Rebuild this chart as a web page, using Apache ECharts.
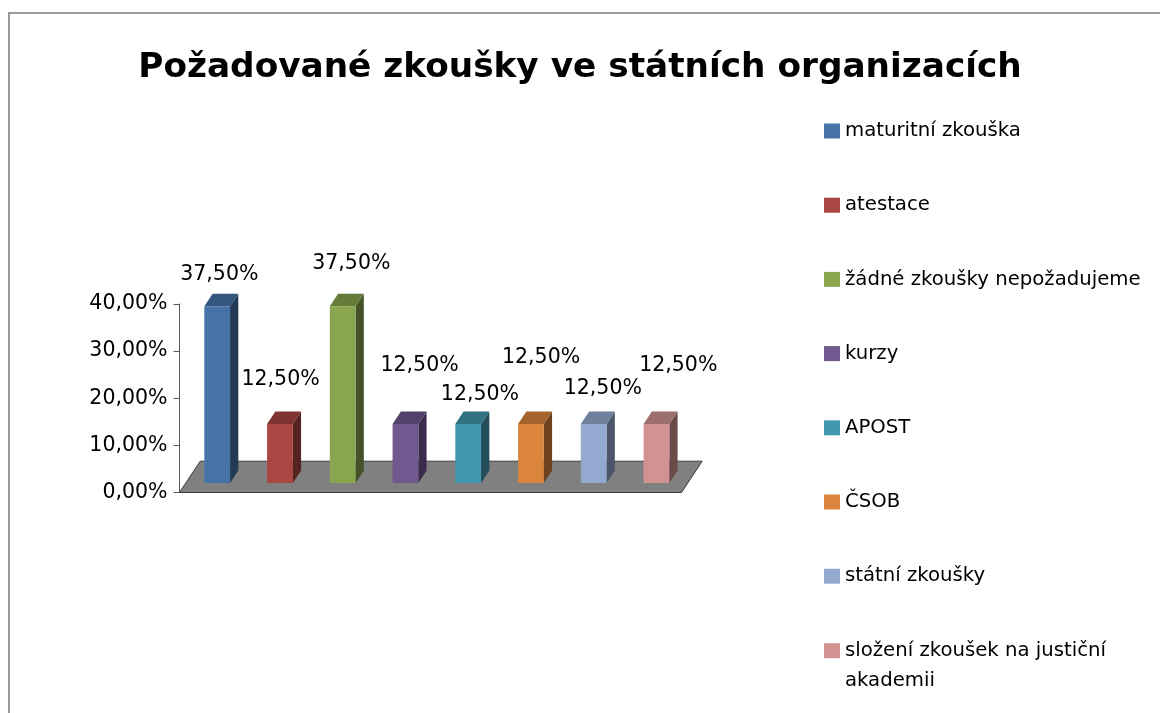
<!DOCTYPE html>
<html>
<head>
<meta charset="utf-8">
<script src="https://cdn.jsdelivr.net/npm/echarts@6/dist/echarts.min.js"></script>
<style>
html,body{margin:0;padding:0;background:#fff;}
#chart{width:1160px;height:713px;}
</style>
</head>
<body>
<div id="chart"></div>
<script>
// ---- data ----
var titleText = 'Požadované zkoušky ve státních organizacích';
var categories = ['maturitní zkouška', 'atestace', 'žádné zkoušky nepožadujeme', 'kurzy', 'APOST', 'ČSOB', 'státní zkoušky', 'složení zkoušek na justiční akademii'];
var values = [0.375, 0.125, 0.375, 0.125, 0.125, 0.125, 0.125, 0.125];
var yTicks = { min: 0, max: 0.4, interval: 0.1 };

// ---- styles ----
var frontColors = ['#4572A7', '#AA4643', '#89A54E', '#71588F', '#4198AF', '#DB843D', '#93A9CF', '#D19392'];
var topColors   = ['#34557E', '#7F3431', '#667B3A', '#54416B', '#307182', '#A4622D', '#6E7F9B', '#9C6E6D'];
var sideColors  = ['#233A56', '#572320', '#455228', '#3A2C4A', '#224D59', '#6F421F', '#4B5669', '#6A4B4A'];
// label offsets (px) relative to the centre of each bar's top face, mimicking the reference placement
var labelOffsets = [[-2, -25], [-3.5, -38], [4.5, -36], [10, -52], [7.6, -23], [6, -60], [5, -29], [17.7, -52]];
var DEPTH = [20.7, -31.3];      // floor depth vector
var F0 = 0.305, F1 = 0.705;     // bar front/back depth fractions
var BAR_RATIO = 0.41;
var FONT = 'DejaVu Sans';

function pct(v) { return (v * 100).toFixed(2).replace('.', ',') + '%'; }

var chart = echarts.init(document.getElementById('chart'), null, { renderer: 'canvas' });

var series = [];
// floor
series.push({
  type: 'custom',
  name: '__floor',
  silent: true,
  z: 1,
  data: [[0, 0]],
  renderItem: function (params, api) {
    var cs = params.coordSys;
    var bx = cs.x, by = cs.y + cs.height, w = cs.width;
    return {
      type: 'polygon',
      shape: { points: [[bx, by], [bx + w, by], [bx + w + DEPTH[0], by + DEPTH[1]], [bx + DEPTH[0], by + DEPTH[1]]] },
      style: { fill: '#808080', stroke: '#3a3a3a', lineWidth: 1 }
    };
  }
});

categories.forEach(function (name, i) {
  series.push({
    type: 'custom',
    name: name,
    z: 2,
    itemStyle: { color: frontColors[i] },
    data: [[i, values[i]]],
    renderItem: function (params, api) {
      var idx = api.value(0), val = api.value(1);
      var p0 = api.coord([idx, 0]);
      var p1 = api.coord([idx, val]);
      var band = api.size([1, 0])[0];
      var bw = band * BAR_RATIO;
      var sx = F0 * DEPTH[0], sy = F0 * DEPTH[1];
      var dx = (F1 - F0) * DEPTH[0], dy = (F1 - F0) * DEPTH[1];
      var xl = p0[0] - bw / 2 + sx, xr = xl + bw;
      var yb = p0[1] + sy, yt = p1[1] + sy;
      var off = labelOffsets[i];
      var lx = (xl + xr) / 2 + dx / 2 + off[0];
      var ly = yt + dy / 2 + off[1];
      return {
        type: 'group',
        children: [
          { type: 'polygon', shape: { points: [[xr, yt], [xr + dx, yt + dy], [xr + dx, yb + dy], [xr, yb]] },
            style: { fill: sideColors[i] } },
          { type: 'polygon', shape: { points: [[xl, yt], [xr, yt], [xr + dx, yt + dy], [xl + dx, yt + dy]] },
            style: { fill: topColors[i] } },
          { type: 'rect', shape: { x: xl, y: yt, width: bw, height: yb - yt },
            style: { fill: frontColors[i] } },
          { type: 'text', x: lx, y: ly,
            style: { text: pct(val), fill: '#000', font: '20.5px "' + FONT + '"', align: 'center', verticalAlign: 'middle' } }
        ]
      };
    }
  });
});

var legendText = { fontFamily: FONT, fontSize: 19.7, color: '#000', lineHeight: 30 };

var option = {
  animation: false,
  backgroundColor: '#fff',
  graphic: [{
    type: 'rect', silent: true, z: -1,
    shape: { x: 9, y: 13, width: 1300, height: 900 },
    style: { fill: 'none', stroke: '#9a9a9a', lineWidth: 2 }
  }],
  title: {
    text: titleText,
    left: 'center',
    top: 46,
    textStyle: { fontFamily: FONT, fontSize: 34.3, fontWeight: 'bold', color: '#000' }
  },
  legend: [{
    orient: 'vertical',
    left: 824,
    top: 116,
    padding: 0,
    itemWidth: 16,
    itemHeight: 15,
    itemGap: 44.2,
    icon: 'rect',
    selectedMode: false,
    textStyle: legendText,
    data: categories.slice(0, 7)
  }, {
    orient: 'vertical',
    left: 824,
    top: 605.7,
    padding: 0,
    itemWidth: 16,
    itemHeight: 15,
    icon: 'rect',
    selectedMode: false,
    // wrap the last word onto a second line; leading blank line keeps the first line level with the marker
    formatter: function (name) { return '\n' + name.replace(/ (\S+)$/, '\n$1'); },
    textStyle: legendText,
    data: categories.slice(7)
  }],
  grid: { left: 179.5, right: 478.5, top: 304, bottom: 220.5, containLabel: false },
  xAxis: {
    type: 'category',
    data: categories,
    show: false
  },
  yAxis: {
    type: 'value',
    min: yTicks.min,
    max: yTicks.max,
    interval: yTicks.interval,
    axisLine: { show: true, lineStyle: { color: '#5a5a5a', width: 1 } },
    axisTick: { show: true, length: 6, lineStyle: { color: '#5a5a5a' } },
    splitLine: { show: false },
    axisLabel: { margin: 12, color: '#000', fontFamily: FONT, fontSize: 20.5, formatter: pct }
  },
  series: series
};
chart.setOption(option);
</script>
</body>
</html>
